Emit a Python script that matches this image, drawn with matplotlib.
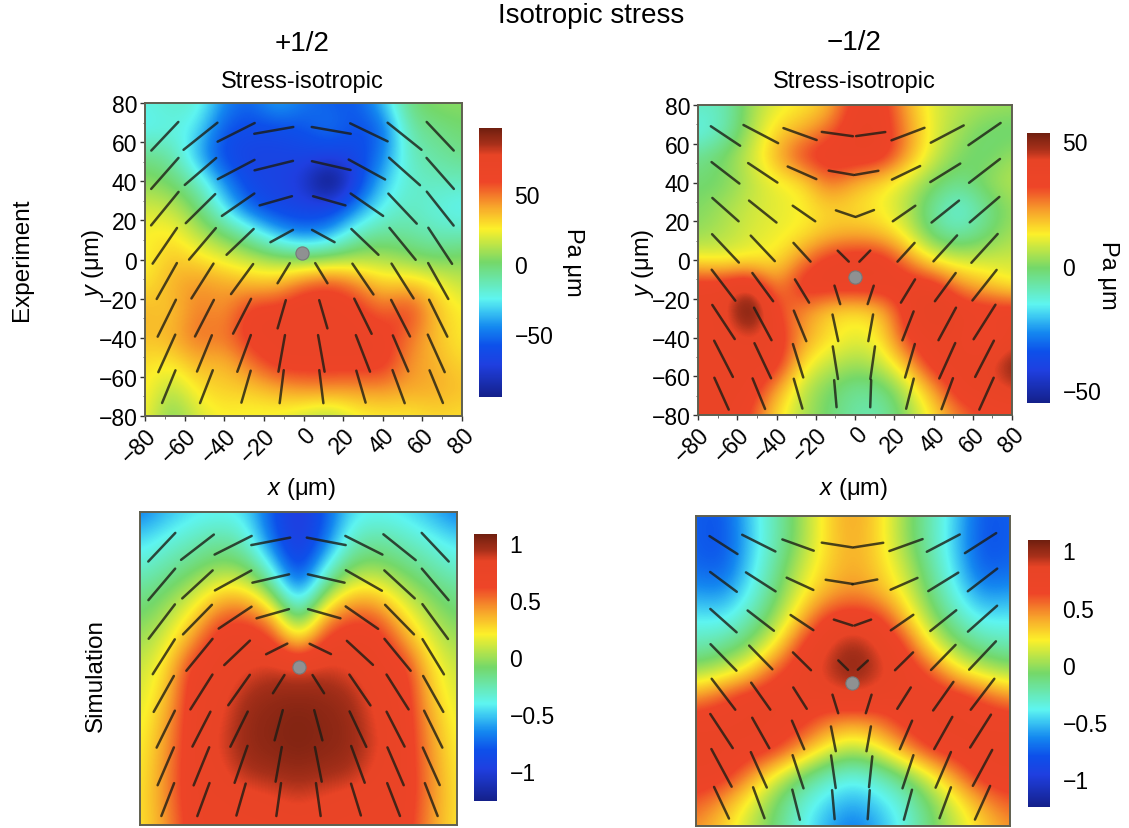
import matplotlib
matplotlib.use('Agg')
import matplotlib.pyplot as plt
import numpy as np
from matplotlib.colors import LinearSegmentedColormap

plt.rcParams['font.family'] = ['Liberation Sans', 'DejaVu Sans']
plt.rcParams['mathtext.fontset'] = 'custom'
plt.rcParams['mathtext.it'] = 'Liberation Sans:italic'
plt.rcParams['mathtext.rm'] = 'Liberation Sans'

W, H = 1129, 829

# stress maps, rows from y=+80 down to y=-80, columns from x=-80 to x=+80
stress_a = [
    [-22, -18, -18, -45, -55, -35, -50, -55, -58, -35, -2, 5, 5],
    [-27, -22, -28, -58, -62, -62, -58, -48, -60, -55, -10, -5, 0],
    [-5, -10, -38, -64, -68, -68, -66, -66, -66, -48, -15, -10, -5],
    [5, 0, -15, -45, -66, -68, -76, -112, -68, -34, -18, -15, -15],
    [18, 15, 0, -28, -56, -66, -68, -68, -46, -24, -15, -22, -27],
    [25, 28, 12, 0, -15, -38, -50, -42, -15, -8, -10, -15, -15],
    [22, 35, 30, 22, 15, 8, 5, 8, 12, 12, 5, 0, 5],
    [28, 38, 45, 42, 38, 38, 56, 64, 50, 32, 38, 28, 15],
    [38, 32, 50, 42, 66, 66, 72, 66, 66, 52, 64, 35, 25],
    [35, 38, 52, 48, 66, 66, 66, 66, 66, 66, 50, 35, 25],
    [28, 25, 38, 35, 50, 66, 66, 66, 66, 66, 44, 38, 30],
    [28, 10, 28, 32, 32, 38, 44, 44, 42, 44, 40, 40, 35],
    [25, 0, 18, 25, 22, 22, 15, 8, 22, 25, 25, 30, 28],
]
stress_b = [
    [-10, -10, 3, 10, 13, 18, 36, 36, 20, 9, 6, 4, 3],
    [-16, -10, 4, 16, 20, 28, 38, 38, 24, 10, 3, -2, -3],
    [-5, 0, 8, 20, 34, 38, 38, 38, 22, 8, 0, -3, 3],
    [-2, -1, 6, 11, 13, 28, 20, 14, 8, 0, -5, 2, 6],
    [0, 4, 8, 10, 12, 16, 14, 12, 5, -7, -15, -6, 2],
    [2, 5, 9, 11, 13, 18, 20, 18, 10, -5, -9, -3, 4],
    [12, 10, 12, 13, 25, 36, 38, 38, 25, 12, 8, 8, 8],
    [38, 38, 44, 22, 38, 38, 38, 38, 38, 38, 24, 18, 12],
    [38, 38, 62, 30, 24, 15, 13, 17, 36, 47, 38, 38, 38],
    [38, 38, 42, 38, 22, 15, 10, 13, 34, 38, 38, 27, 38],
    [38, 38, 38, 38, 14, 7, 3, 7, 20, 38, 38, 40, 52],
    [38, 38, 38, 22, 6, -1, -6, -5, 6, 22, 38, 38, 44],
    [38, 38, 32, 14, 5, -2, -8, -9, 2, 14, 26, 32, 32],
]
stress_c = [
    [-0.7, -0.55, -0.45, -0.42, -0.45, -0.8, -1.05, -0.8, -0.45, -0.42, -0.45, -0.55, -0.7],
    [-0.48, -0.38, -0.3, -0.22, -0.3, -0.75, -1.05, -0.75, -0.3, -0.22, -0.3, -0.38, -0.48],
    [-0.35, -0.25, -0.15, -0.05, -0.1, -0.45, -1.0, -0.45, -0.1, -0.05, -0.15, -0.25, -0.35],
    [-0.2, -0.1, 0.05, 0.25, 0.25, -0.1, -0.72, -0.1, 0.25, 0.25, 0.05, -0.1, -0.2],
    [-0.1, 0.03, 0.25, 0.55, 0.6, 0.4, -0.3, 0.4, 0.6, 0.55, 0.25, 0.03, -0.1],
    [0.0, 0.15, 0.45, 0.75, 0.75, 0.7, 0.25, 0.7, 0.75, 0.75, 0.45, 0.15, 0.0],
    [0.08, 0.25, 0.7, 0.75, 0.83, 0.9, 0.86, 0.9, 0.83, 0.75, 0.7, 0.25, 0.08],
    [0.12, 0.3, 0.75, 0.78, 0.95, 0.99, 1.0, 0.99, 0.95, 0.78, 0.75, 0.3, 0.12],
    [0.15, 0.38, 0.75, 0.82, 0.99, 1.01, 1.04, 1.01, 0.99, 0.82, 0.75, 0.38, 0.15],
    [0.18, 0.42, 0.75, 0.85, 0.99, 1.01, 1.04, 1.01, 0.99, 0.85, 0.75, 0.42, 0.18],
    [0.2, 0.45, 0.75, 0.8, 0.94, 0.96, 0.99, 0.96, 0.94, 0.8, 0.75, 0.45, 0.2],
    [0.22, 0.45, 0.75, 0.75, 0.78, 0.82, 0.88, 0.82, 0.78, 0.75, 0.75, 0.45, 0.22],
    [0.22, 0.42, 0.72, 0.75, 0.75, 0.75, 0.78, 0.75, 0.75, 0.75, 0.72, 0.42, 0.22],
]
stress_d = [
    [-0.75, -0.8, -0.5, -0.25, 0.0, 0.28, 0.42, 0.28, 0.0, -0.25, -0.5, -0.8, -0.75],
    [-0.75, -0.82, -0.52, -0.25, 0.0, 0.28, 0.4, 0.28, 0.0, -0.25, -0.52, -0.82, -0.75],
    [-0.72, -0.78, -0.48, -0.2, 0.1, 0.3, 0.4, 0.3, 0.1, -0.2, -0.48, -0.78, -0.72],
    [-0.58, -0.62, -0.4, -0.12, 0.18, 0.38, 0.48, 0.38, 0.18, -0.12, -0.4, -0.62, -0.58],
    [-0.4, -0.42, -0.25, 0.0, 0.35, 0.7, 0.75, 0.7, 0.35, 0.0, -0.25, -0.42, -0.4],
    [-0.25, -0.2, -0.05, 0.2, 0.65, 0.85, 1.0, 0.85, 0.65, 0.2, -0.05, -0.2, -0.25],
    [0.0, 0.1, 0.25, 0.6, 0.75, 0.92, 1.05, 0.92, 0.75, 0.6, 0.25, 0.1, 0.0],
    [0.45, 0.6, 0.75, 0.75, 0.75, 0.78, 0.85, 0.78, 0.75, 0.75, 0.75, 0.6, 0.45],
    [0.75, 0.75, 0.75, 0.75, 0.7, 0.5, 0.42, 0.5, 0.7, 0.75, 0.75, 0.75, 0.75],
    [0.75, 0.75, 0.75, 0.7, 0.45, 0.2, 0.05, 0.2, 0.45, 0.7, 0.75, 0.75, 0.75],
    [0.75, 0.75, 0.5, 0.2, -0.05, -0.25, -0.35, -0.25, -0.05, 0.2, 0.5, 0.75, 0.75],
    [0.6, 0.45, 0.2, -0.05, -0.3, -0.45, -0.55, -0.45, -0.3, -0.05, 0.2, 0.45, 0.6],
    [0.45, 0.3, 0.1, -0.1, -0.35, -0.55, -0.7, -0.55, -0.35, -0.1, 0.1, 0.3, 0.45],
]

# director segments: centre x, centre y (um), angle (deg), length (um)
dir_x_a = [
    [-70, -52, -34, -15, 14, 33, 51, 69],
    [-70, -52, -34, -15, 14, 32, 51, 69],
    [-70, -52, -33, -14, 13, 32, 50, 69],
    [-70, -51, -32, -11, 10, 31, 50, 69],
    [-69, -51, -31, -10, 9, 30, 50, 68],
    [-69, -50, -31, -11, 10, 30, 49, 68],
    [-69, -50, -30, -11, 9, 30, 49, 67],
    [-68, -49, -29, -11, 9, 29, 48, 67],
]
dir_y_a = [
    [63, 63, 65, 66, 66, 65, 63, 63],
    [44, 45, 46, 48, 48, 46, 45, 44],
    [26, 26, 28, 30, 30, 28, 26, 26],
    [7, 8, 9, 12, 12, 9, 8, 7],
    [-11, -11, -10, -7, -7, -10, -11, -11],
    [-30, -30, -29, -28, -28, -29, -30, -30],
    [-48, -48, -48, -48, -48, -48, -48, -48],
    [-65, -65, -65, -65, -65, -65, -65, -65],
]
dir_ang_a = [
    [47, 39, 27, 10, -10, -26, -39, -47],
    [49, 41, 28, 14, -13, -29, -42, -49],
    [51, 45, 35, 16, -16, -35, -47, -52],
    [56, 50, 44, 29, -29, -44, -51, -57],
    [61, 58, 54, 59, -59, -56, -58, -61],
    [64, 63, 63, 74, -74, -64, -63, -64],
    [66, 68, 70, 80, -80, -69, -67, -66],
    [68, 69, 74, 83, -83, -74, -70, -68],
]
dir_len_a = [
    [20, 22, 21, 20, 20, 21, 22, 20],
    [21, 21, 21, 20, 20, 21, 21, 21],
    [22, 21, 20, 17, 17, 20, 21, 22],
    [22, 21, 19, 13, 13, 19, 21, 22],
    [21, 21, 19, 12, 12, 19, 21, 21],
    [21, 21, 20, 15, 15, 20, 21, 21],
    [21, 20, 20, 19, 19, 20, 20, 21],
    [18, 18, 17, 17, 17, 17, 18, 18],
]

dir_x_b = [
    [-66, -48, -28, -9, 8, 27, 47, 66],
    [-66, -47, -27, -7, 6, 26, 46, 66],
    [-66, -47, -26, -5, 5, 25, 46, 66],
    [-66, -47, -27, -6, 5, 26, 46, 66],
    [-67, -47, -27, -9, 8, 27, 46, 66],
    [-67, -47, -28, -10, 8, 27, 47, 66],
    [-67, -47, -29, -10, 9, 28, 47, 66],
    [-68, -49, -29, -10, 8, 28, 47, 67],
]
dir_y_b = [
    [64, 65, 65, 65, 65, 65, 65, 65],
    [45, 45, 45, 45, 45, 45, 45, 46],
    [26, 25, 24, 24, 24, 24, 25, 26],
    [6, 6, 4, 2, 2, 4, 6, 6],
    [-13, -14, -16, -18, -18, -16, -14, -13],
    [-32, -33, -34, -35, -35, -34, -33, -32],
    [-51, -52, -52, -53, -53, -52, -52, -51],
    [-69, -69, -69, -69, -69, -69, -69, -69],
]
dir_ang_b = [
    [-34, -28, -20, -8, 8, 21, 28, 35],
    [-38, -34, -24, -10, 10, 26, 32, 38],
    [-42, -39, -35, -19, 21, 35, 39, 41],
    [-47, -47, -48, -45, 46, 48, 48, 48],
    [-53, -54, -59, -73, 72, 59, 54, 52],
    [-57, -62, -68, -78, 80, 69, 62, 58],
    [-63, -65, -73, -81, 82, 74, 66, 63],
    [-66, -68, -74, -85, 88, 76, 70, 66],
]
dir_len_b = [
    [18, 20, 18, 16, 15, 18, 19, 20],
    [18, 18, 16, 13, 12, 16, 18, 20],
    [18, 18, 14, 10, 10, 14, 18, 20],
    [20, 18, 13, 8, 8, 13, 18, 20],
    [20, 18, 14, 10, 10, 14, 18, 20],
    [21, 19, 17, 14, 14, 16, 19, 21],
    [21, 20, 18, 17, 17, 18, 20, 21],
    [18, 17, 16, 14, 14, 16, 17, 18],
]

dir_x_c = [
    [-69, -51, -33, -14, 14, 33, 51, 69],
    [-69, -51, -33, -14, 14, 33, 51, 69],
    [-69, -51, -32, -13, 13, 32, 51, 69],
    [-68, -50, -31, -11, 11, 31, 50, 68],
    [-68, -49, -30, -10, 10, 31, 50, 68],
    [-67, -49, -30, -10, 10, 30, 49, 68],
    [-67, -49, -29, -10, 10, 30, 49, 67],
    [-66, -48, -29, -10, 10, 29, 48, 67],
]
dir_y_c = [
    [62, 62, 63, 65, 65, 63, 62, 62],
    [43, 43, 45, 46, 46, 45, 43, 43],
    [24, 25, 26, 28, 28, 26, 25, 24],
    [6, 7, 8, 10, 10, 8, 7, 6],
    [-13, -12, -11, -8, -8, -11, -12, -13],
    [-31, -31, -31, -29, -29, -31, -31, -31],
    [-50, -50, -49, -49, -49, -49, -50, -50],
    [-67, -67, -67, -67, -67, -67, -67, -67],
]
dir_ang_c = [
    [47, 38, 27, 11, -11, -27, -39, -47],
    [50, 43, 29, 13, -13, -30, -43, -50],
    [53, 46, 34, 16, -16, -35, -46, -54],
    [58, 51, 44, 27, -26, -43, -51, -59],
    [61, 58, 55, 58, -58, -56, -58, -61],
    [64, 63, 64, 75, -75, -65, -63, -64],
    [67, 68, 71, 80, -79, -70, -67, -66],
    [69, 70, 74, 82, -82, -73, -69, -69],
]
dir_len_c = [
    [20, 21, 21, 20, 20, 21, 21, 20],
    [21, 21, 21, 19, 19, 21, 21, 21],
    [22, 21, 20, 17, 17, 20, 21, 22],
    [21, 21, 18, 12, 12, 18, 21, 21],
    [21, 21, 19, 11, 11, 19, 21, 21],
    [21, 20, 20, 16, 16, 20, 20, 21],
    [21, 21, 20, 18, 18, 20, 21, 21],
    [18, 18, 17, 17, 17, 17, 18, 18],
]

dir_x_d = [
    [-66, -48, -28, -8, 8, 27, 46, 65],
    [-66, -47, -27, -7, 6, 26, 46, 66],
    [-66, -47, -26, -5, 5, 25, 46, 66],
    [-66, -47, -26, -5, 5, 26, 46, 66],
    [-66, -47, -27, -9, 8, 26, 46, 66],
    [-67, -47, -28, -10, 8, 27, 46, 65],
    [-67, -48, -28, -10, 9, 28, 46, 66],
    [-67, -48, -29, -10, 8, 28, 47, 66],
]
dir_y_d = [
    [65, 66, 65, 65, 65, 65, 66, 66],
    [46, 46, 45, 46, 46, 45, 46, 47],
    [26, 26, 25, 25, 25, 25, 26, 27],
    [7, 7, 5, 3, 3, 5, 7, 8],
    [-12, -13, -14, -17, -17, -14, -13, -12],
    [-31, -32, -33, -35, -35, -33, -32, -31],
    [-50, -51, -52, -52, -52, -52, -51, -50],
    [-68, -68, -69, -69, -69, -69, -68, -68],
]
dir_ang_d = [
    [-33, -27, -20, -9, 9, 20, 28, 33],
    [-37, -33, -25, -9, 11, 24, 32, 38],
    [-42, -38, -34, -18, 20, 35, 39, 42],
    [-46, -46, -45, -45, 43, 45, 46, 47],
    [-53, -55, -58, -73, 73, 58, 55, 53],
    [-57, -61, -67, -79, 80, 67, 61, 58],
    [-62, -66, -72, -82, 84, 72, 67, 62],
    [-65, -70, -76, -85, 86, 75, 70, 66],
]
dir_len_d = [
    [17, 19, 17, 16, 15, 18, 19, 19],
    [17, 18, 15, 14, 13, 15, 18, 19],
    [18, 17, 14, 10, 9, 14, 17, 20],
    [19, 17, 13, 7, 7, 13, 18, 20],
    [20, 17, 13, 10, 10, 13, 18, 20],
    [21, 18, 16, 13, 13, 16, 19, 20],
    [22, 20, 18, 17, 16, 18, 20, 21],
    [18, 17, 16, 15, 15, 16, 17, 19],
]

defect_a = (-1, 3.5)
defect_b = (0, -9)
defect_c = (0, 0.7)
defect_d = (-0.5, -6)

ticks_um = [-80, -60, -40, -20, 0, 20, 40, 60, 80]
cbar_ticks_a = [-50, 0, 50]
cbar_ticks_b = [-50, 0, 50]
cbar_ticks_c = [-1, -0.5, 0, 0.5, 1]
cbar_ticks_d = [-1, -0.5, 0, 0.5, 1]
cbar_labels_c = ['\u22121', '\u22120.5', '0', '0.5', '1']

cmap_stops = [(0.0, '#14208a'), (0.12, '#1f3fe0'), (0.19, '#0d50ea'), (0.26, '#1488f0'), (0.32, '#3cc8f2'),
              (0.365, '#5ef5f0'), (0.5, '#74d86a'), (0.625, '#fcf02a'), (0.71, '#f7a32b'),
              (0.80, '#ee4528'), (0.90, '#e84426'), (0.94, '#a8301a'), (1.0, '#701f0f')]
stress_cmap = LinearSegmentedColormap.from_list('stress', cmap_stops, N=512)


def px_axes(fig, left, top, right, bottom):
    return fig.add_axes([left / W, 1 - bottom / H, (right - left) / W, (bottom - top) / H])


def draw_panel(ax, stress, dir_x, dir_y, dir_ang, dir_len, defect, vmin, vmax):
    step = 160 / 12
    edge = 80 + step / 2
    im = ax.imshow(stress, extent=(-edge, edge, -edge, edge), cmap=stress_cmap, vmin=vmin, vmax=vmax,
                   interpolation='bicubic', aspect='auto')
    ax.set_xlim(-80, 80)
    ax.set_ylim(-80, 80)
    for i in range(len(dir_x)):
        for j in range(len(dir_x[i])):
            a = np.radians(dir_ang[i][j])
            dx = dir_len[i][j] / 2 * np.cos(a)
            dy = dir_len[i][j] / 2 * np.sin(a)
            ax.plot([dir_x[i][j] - dx, dir_x[i][j] + dx], [dir_y[i][j] - dy, dir_y[i][j] + dy],
                    color='#1c1c14', alpha=0.8, lw=1.8, solid_capstyle='round')
    ax.plot(defect[0], defect[1], 'o', ms=9.5, mfc='#8f9192', mec='#76797a', mew=0.8)
    for s in ax.spines.values():
        s.set_color('#5f5f50')
        s.set_linewidth(1.4)
    return im


def draw_cbar(fig, im, box, ticks, labels=None, unit=None, unit_x=None, unit_y=None):
    cax = px_axes(fig, *box)
    cb = fig.colorbar(im, cax=cax)
    cb.set_ticks(ticks)
    if labels:
        cb.set_ticklabels(labels)
    cb.ax.tick_params(length=0, labelsize=16.5, pad=9)
    cb.ax.minorticks_off()
    cb.outline.set_visible(False)
    if unit:
        fig.text(unit_x / W, 1 - unit_y / H, unit, rotation=-90, fontsize=17, ha='center', va='center')


def style_exp(ax):
    ax.set_xticks(ticks_um)
    ax.set_yticks(ticks_um)
    ax.set_xticks(np.arange(-80, 81, 10), minor=True)
    ax.set_yticks(np.arange(-80, 81, 10), minor=True)
    ax.tick_params(which='major', length=3.5, width=1, labelsize=16.5, pad=2, color='#333333')
    ax.tick_params(which='minor', length=1.8, width=0.6, color='#555555')
    for lab in ax.get_xticklabels():
        lab.set_rotation(45)
        lab.set_ha('right')
        lab.set_va('top')
        lab.set_rotation_mode('anchor')


fig = plt.figure(figsize=(W / 100, H / 100), dpi=100)

ax_a = px_axes(fig, 145, 104, 462, 417)
ax_b = px_axes(fig, 698, 106, 1012, 416)
ax_c = px_axes(fig, 140, 513, 457, 826)
ax_d = px_axes(fig, 696, 517, 1010, 827)

im_a = draw_panel(ax_a, stress_a, dir_x_a, dir_y_a, dir_ang_a, dir_len_a, defect_a, -95, 97)
im_b = draw_panel(ax_b, stress_b, dir_x_b, dir_y_b, dir_ang_b, dir_len_b, defect_b, -55, 53)
im_c = draw_panel(ax_c, stress_c, dir_x_c, dir_y_c, dir_ang_c, dir_len_c, defect_c, -1.26, 1.08)
im_d = draw_panel(ax_d, stress_d, dir_x_d, dir_y_d, dir_ang_d, dir_len_d, defect_d, -1.24, 1.09)

for ax in (ax_a, ax_b):
    style_exp(ax)
for ax in (ax_c, ax_d):
    ax.set_xticks([])
    ax.set_yticks([])

draw_cbar(fig, im_a, (479, 129, 502, 398), cbar_ticks_a, unit='Pa \u03bcm', unit_x=573, unit_y=262)
draw_cbar(fig, im_b, (1027, 134, 1050, 404), cbar_ticks_b, unit='Pa \u03bcm', unit_x=1108, unit_y=275)
draw_cbar(fig, im_c, (474, 535, 497, 802), cbar_ticks_c, labels=cbar_labels_c)
draw_cbar(fig, im_d, (1028, 541, 1050, 808), cbar_ticks_d, labels=cbar_labels_c)


def label(x, y, s, size, rotation=0):
    fig.text(x / W, 1 - y / H, s, fontsize=size, rotation=rotation, ha='center', va='center')


x_label = '$\\mathit{x}$ (\u03bcm)'
y_label = '$\\mathit{y}$ (\u03bcm)'
label(591, 16, 'Isotropic stress', 20)
label(302, 44, '+1/2', 20)
label(854, 43, '\u22121/2', 20)
label(302, 82, 'Stress-isotropic', 17)
label(854, 82, 'Stress-isotropic', 17)
label(301, 489, x_label, 17)
label(853, 489, x_label, 17)
label(93, 263, y_label, 17, 90)
label(643, 263, y_label, 17, 90)
label(22, 260, 'Experiment', 17.5, 90)
label(96, 676, 'Simulation', 17.5, 90)

fig.savefig('out.png', dpi=100)
